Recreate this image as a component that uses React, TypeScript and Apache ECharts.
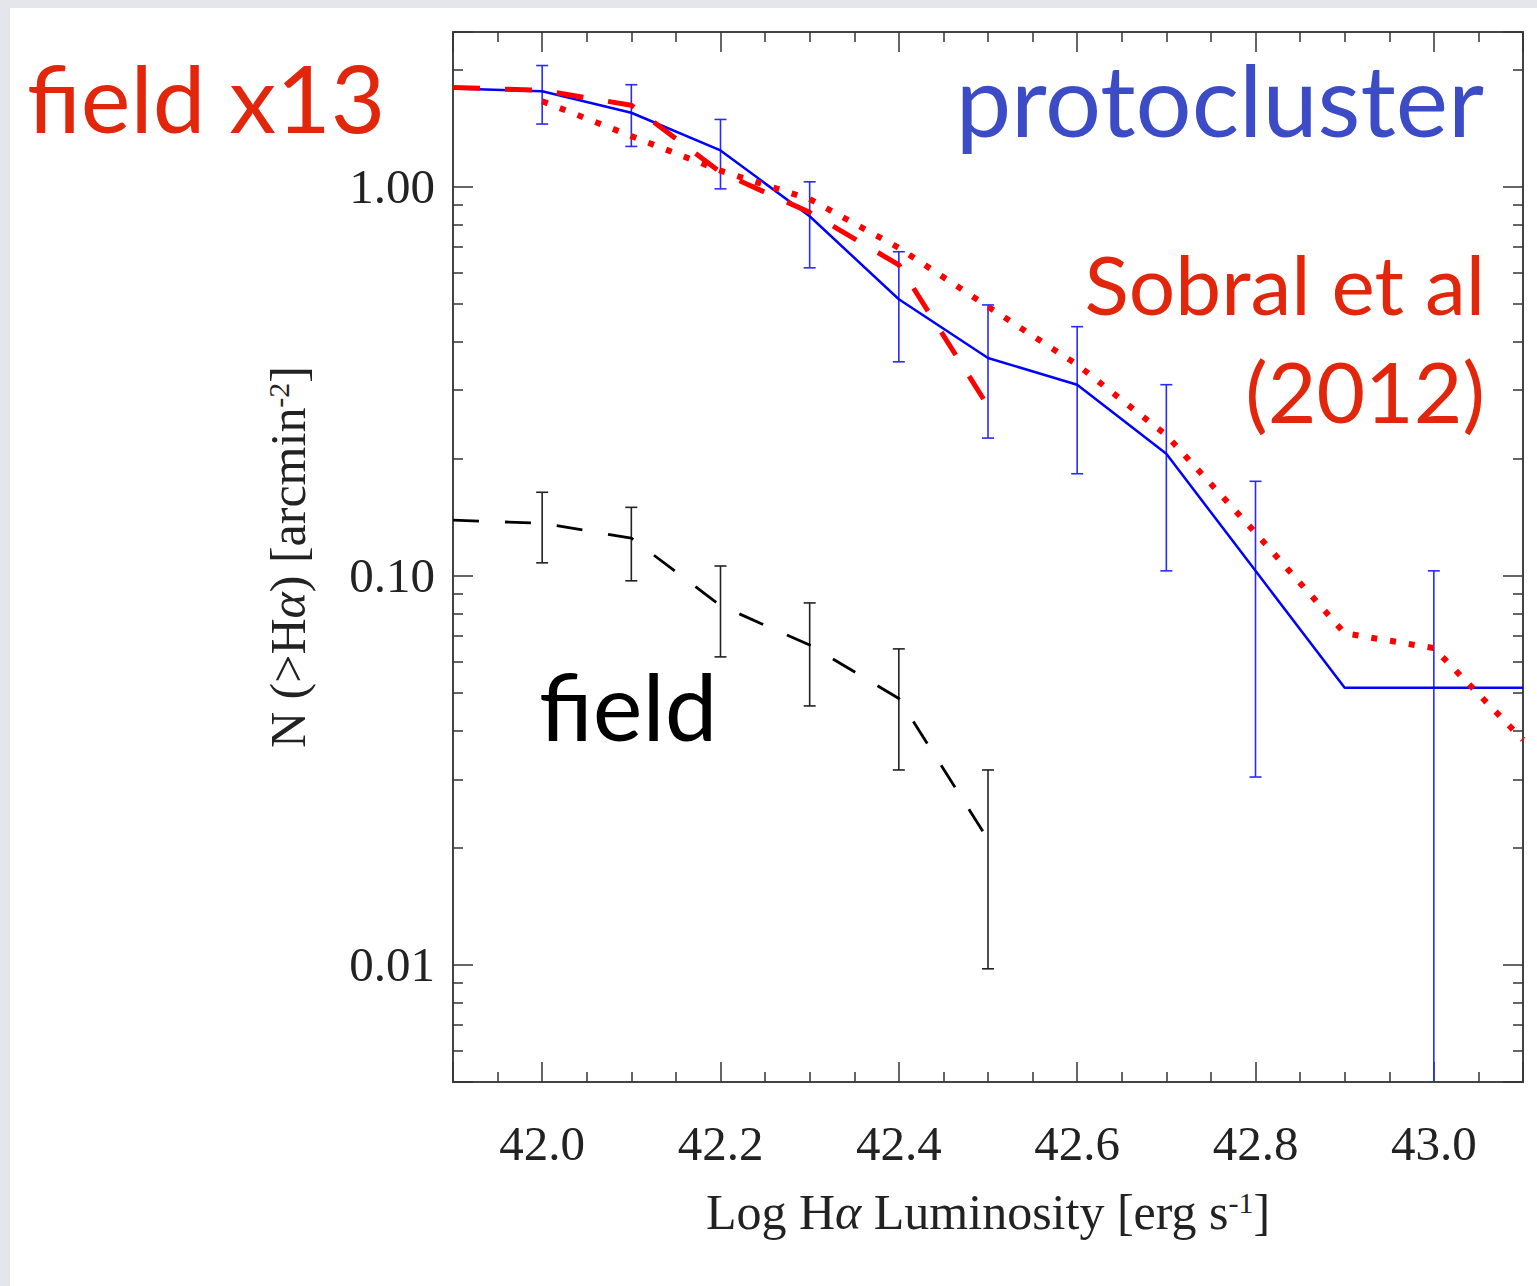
import React, { useEffect, useRef } from "react";
import * as echarts from "echarts";

// ---- data ----
const protoX = [41.9, 42.0, 42.1, 42.2, 42.3, 42.4, 42.5, 42.6, 42.7, 42.8, 42.9, 43.0, 43.1];
const protoValues = [1.79, 1.76, 1.55, 1.24, 0.84, 0.514, 0.363, 0.31, 0.206, 0.103, 0.0516, 0.0516, 0.0516];
const protoErrX = [42.0, 42.1, 42.2, 42.3, 42.4, 42.5, 42.6, 42.7, 42.8, 43.0];
const protoErrLow = [1.45, 1.27, 0.988, 0.619, 0.355, 0.226, 0.183, 0.103, 0.0304, 0.005];
const protoErrHigh = [2.05, 1.83, 1.49, 1.03, 0.681, 0.497, 0.437, 0.31, 0.175, 0.103];

const sobralX = [42.0, 42.1, 42.2, 42.3, 42.4, 42.5, 42.6, 42.7, 42.8, 42.9, 43.0, 43.1];
const sobralValues = [1.66, 1.35, 1.1, 0.93, 0.697, 0.492, 0.349, 0.23, 0.129, 0.0712, 0.0652, 0.0379];

const fieldX = [41.9, 42.0, 42.1, 42.2, 42.3, 42.4, 42.5];
const fieldValues = [0.139, 0.1365, 0.125, 0.0839, 0.0664, 0.0484, 0.021];
const fieldScaledValues = [1.8, 1.77, 1.62, 1.09, 0.86, 0.63, 0.273];
const fieldErrX = [42.0, 42.1, 42.2, 42.3, 42.4, 42.5];
const fieldErrLow = [0.108, 0.0971, 0.0619, 0.0463, 0.0317, 0.00977];
const fieldErrHigh = [0.164, 0.15, 0.106, 0.0852, 0.0649, 0.0317];

const xMin = 41.9;
const xMax = 43.1;
const yMin = 0.005;
const yMax = 2.5;

const SERIF = '"Liberation Serif", "Times New Roman", serif';
const SANS = 'Lato, "Open Sans", sans-serif';
const RED_TEXT = "#e2260c";

function errorBarSeries(name: string, xs: number[], lo: number[], hi: number[], color: string) {
  return {
    name,
    type: "custom",
    data: xs.map((x, i) => [x, lo[i], hi[i]]),
    encode: { x: 0, y: [1, 2] },
    clip: true,
    z: 3,
    renderItem: (params: any, api: any) => {
      const x = api.value(0);
      const pLo = api.coord([x, api.value(1)]);
      const pHi = api.coord([x, api.value(2)]);
      const hw = 6;
      const st = { stroke: color, lineWidth: 1.6 };
      return {
        type: "group",
        children: [
          { type: "line", shape: { x1: pLo[0], y1: pLo[1], x2: pHi[0], y2: pHi[1] }, style: st },
          { type: "line", shape: { x1: pLo[0] - hw, y1: pLo[1], x2: pLo[0] + hw, y2: pLo[1] }, style: st },
          { type: "line", shape: { x1: pHi[0] - hw, y1: pHi[1], x2: pHi[0] + hw, y2: pHi[1] }, style: st },
        ],
      };
    },
  };
}

const axisLineStyle = { color: "#444", width: 2 };
const tickStyle = { color: "#333", width: 1.5 };

function xFormatter(v: number) {
  const k = v / 0.2;
  if (Math.abs(k - Math.round(k)) < 1e-6) return v.toFixed(1);
  return "";
}
function yFormatter(v: number) {
  const l = Math.log10(v);
  if (Math.abs(l - Math.round(l)) < 1e-6) return v.toFixed(2);
  return "";
}

export default function App() {
  const ref = useRef<HTMLDivElement>(null);
  useEffect(() => {
    if (!ref.current) return;
    const chart = echarts.init(ref.current, null, { renderer: "svg" });
    const option: any = {
      animation: false,
      backgroundColor: "#ffffff",
      grid: { left: 453, right: 14, top: 32, bottom: 204 },
      xAxis: [
        {
          type: "value",
          min: xMin,
          max: xMax,
          position: "bottom",
          axisLine: { show: true, lineStyle: axisLineStyle },
          axisTick: { show: true, inside: true, length: 20, lineStyle: tickStyle },
          minorTick: { show: true, splitNumber: 4, length: 10, lineStyle: tickStyle },
          splitLine: { show: false },
          axisLabel: {
            formatter: xFormatter,
            showMinLabel: false,
            showMaxLabel: false,
            margin: 37,
            fontFamily: SERIF,
            fontSize: 49,
            color: "#222",
          },
          name: "Log H{a|α} Luminosity [erg s{sup|-1}]",
          nameLocation: "middle",
          nameGap: 105,
          nameTextStyle: {
            fontFamily: SERIF,
            fontSize: 50,
            color: "#222",
            rich: {
              a: { fontFamily: SERIF, fontSize: 50, fontStyle: "italic", color: "#222" },
              sup: { fontFamily: SERIF, fontSize: 30, color: "#222", verticalAlign: "top", padding: [0, 0, 18, 0] },
            },
          },
        },
        {
          type: "value",
          min: xMin,
          max: xMax,
          position: "top",
          axisLine: { show: true, lineStyle: axisLineStyle },
          axisTick: { show: true, inside: true, length: 20, lineStyle: tickStyle },
          minorTick: { show: true, splitNumber: 4, length: 10, lineStyle: tickStyle },
          splitLine: { show: false },
          axisLabel: { show: false },
        },
      ],
      yAxis: [
        {
          type: "log",
          logBase: 10,
          min: yMin,
          max: yMax,
          position: "left",
          axisLine: { show: true, lineStyle: axisLineStyle },
          axisTick: { show: true, inside: true, length: 20, lineStyle: tickStyle },
          minorTick: { show: true, splitNumber: 9, length: 10, lineStyle: tickStyle },
          splitLine: { show: false },
          axisLabel: {
            formatter: yFormatter,
            showMinLabel: false,
            showMaxLabel: false,
            margin: 18,
            padding: [12, 0, 0, 0],
            fontFamily: SERIF,
            fontSize: 49,
            color: "#222",
          },
          name: "N (>H{a|α}) [arcmin{sup|-2}]",
          nameLocation: "middle",
          nameRotate: 90,
          nameGap: 140,
          nameTextStyle: {
            fontFamily: SERIF,
            fontSize: 50,
            color: "#222",
            rich: {
              a: { fontFamily: SERIF, fontSize: 50, fontStyle: "italic", color: "#222" },
              sup: { fontFamily: SERIF, fontSize: 30, color: "#222", verticalAlign: "top", padding: [0, 0, 18, 0] },
            },
          },
        },
        {
          type: "log",
          logBase: 10,
          min: yMin,
          max: yMax,
          position: "right",
          axisLine: { show: true, lineStyle: axisLineStyle },
          axisTick: { show: true, inside: true, length: 20, lineStyle: tickStyle },
          minorTick: { show: true, splitNumber: 9, length: 10, lineStyle: tickStyle },
          splitLine: { show: false },
          axisLabel: { show: false },
        },
      ],
      series: [
        errorBarSeries("protocluster errors", protoErrX, protoErrLow, protoErrHigh, "#2a2aff"),
        {
          name: "protocluster",
          type: "line",
          data: protoX.map((x, i) => [x, protoValues[i]]),
          showSymbol: false,
          symbol: "none",
          lineStyle: { color: "#0000ff", width: 2.5 },
          z: 4,
        },
        errorBarSeries("field errors", fieldErrX, fieldErrLow, fieldErrHigh, "#222"),
        {
          name: "field",
          type: "line",
          data: fieldX.map((x, i) => [x, fieldValues[i]]),
          symbol: "none",
          lineStyle: { color: "#000", width: 2.8, type: [26, 26] },
          z: 4,
        },
        {
          name: "field x13",
          type: "line",
          data: fieldX.map((x, i) => [x, fieldScaledValues[i]]),
          symbol: "none",
          lineStyle: { color: "#ff0000", width: 5, type: [27, 25] },
          z: 5,
        },
        {
          name: "Sobral et al (2012)",
          type: "line",
          data: sobralX.map((x, i) => [x, sobralValues[i]]),
          symbol: "none",
          lineStyle: { color: "#ff0000", width: 6, type: [6, 13] },
          z: 5,
        },
      ],
      graphic: [
        { type: "rect", shape: { x: 0, y: 0, width: 1537, height: 8 }, style: { fill: "#e4e6eb" }, z: 0 },
        { type: "rect", shape: { x: 0, y: 0, width: 10, height: 1286 }, style: { fill: "#e4e6eb" }, z: 0 },
        {
          type: "text",
          x: 27,
          y: 96,
          style: { text: "field x13", fill: RED_TEXT, font: `400 94px ${SANS}`, textAlign: "left", textVerticalAlign: "middle" },
          z: 10,
        },
        {
          type: "text",
          x: 1484,
          y: 98,
          style: { text: "protocluster", fill: "#3c4bc6", font: `400 99px ${SANS}`, textAlign: "right", textVerticalAlign: "middle" },
          z: 10,
        },
        {
          type: "text",
          x: 1485,
          y: 283,
          style: { text: "Sobral et al", fill: RED_TEXT, font: `400 82px ${SANS}`, textAlign: "right", textVerticalAlign: "middle" },
          z: 10,
        },
        {
          type: "text",
          x: 1485,
          y: 390,
          style: { text: "(2012)", fill: RED_TEXT, font: `400 84px ${SANS}`, textAlign: "right", textVerticalAlign: "middle" },
          z: 10,
        },
        {
          type: "text",
          x: 539,
          y: 704,
          style: { text: "field", fill: "#000", font: `400 94px ${SANS}`, textAlign: "left", textVerticalAlign: "middle" },
          z: 10,
        },
      ],
    };
    chart.setOption(option);
    return () => chart.dispose();
  }, []);
  return (
    <div
      ref={ref}
      style={{ position: "fixed", left: 0, top: 0, width: 1537, height: 1286, background: "#fff" }}
    />
  );
}
